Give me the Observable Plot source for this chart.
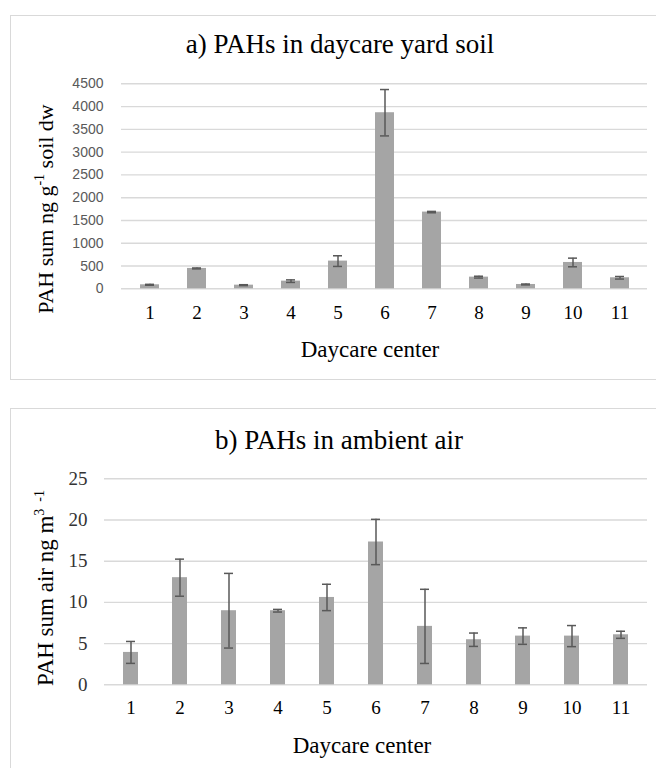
<!DOCTYPE html>
<html><head><meta charset="utf-8">
<script src="https://cdn.jsdelivr.net/npm/d3@7"></script>
<script src="https://cdn.jsdelivr.net/npm/@observablehq/plot@0.6"></script>
<style>
html,body{margin:0;padding:0;background:#fff;overflow:hidden;width:656px;height:768px;position:relative}
.frame{position:absolute;border:1.3px solid #d9d9d9;box-sizing:border-box}
.plot{position:absolute}
</style></head>
<body>
<div class="frame" style="left:10px;top:15px;width:680px;height:365px"></div>
<div class="frame" style="left:10px;top:408px;width:680px;height:400px"></div>
<div id="pa" class="plot" style="left:10px;top:15px"></div>
<div id="pb" class="plot" style="left:10px;top:408px"></div>
<script>
const centers = ["1","2","3","4","5","6","7","8","9","10","11"];
const soil    = [88, 447, 80, 168, 608, 3865, 1684, 256, 95, 578, 242];
const soilErr = [10, 10, 10, 28, 117, 509, 15, 20, 10, 95, 28];
const soilTicks = [0,500,1000,1500,2000,2500,3000,3500,4000,4500];
const air     = [3.93, 13.0, 8.99, 8.99, 10.6, 17.33, 7.09, 5.47, 5.91, 5.91, 6.07];
const airErr  = [1.33, 2.25, 4.53, 0.16, 1.6, 2.75, 4.5, 0.81, 1.0, 1.28, 0.43];
const airTicks = [0,5,10,15,20,25];
const titleA = "a) PAHs in daycare yard soil";
const titleB = "b) PAHs in ambient air";
const xLabel = "Daycare center";
const yLabelA = [["PAH sum ng g", false], ["-1", true], [" soil dw", false]];
const yLabelB = [["PAH sum air ng m", false], ["3\u00a0\u00a0-1", true]];

const SERIF = "Liberation Serif, Times New Roman, serif";

function panel(vals, errs, ticks, o) {
  const rows = centers.map((c, i) => ({c, v: vals[i], e: errs[i]}));
  const svg = Plot.plot({
    width: 646, height: o.height,
    marginLeft: o.ml, marginRight: 9, marginTop: o.mt, marginBottom: o.mb,
    x: {domain: centers, paddingInner: o.pad, paddingOuter: o.pad / 2, axis: null},
    y: {domain: [0, ticks[ticks.length - 1]], axis: null},
    style: {background: "transparent", overflow: "visible"},
    marks: [
      Plot.gridY(ticks, {stroke: "#d9d9d9", strokeOpacity: 1, strokeWidth: 1.4}),
      Plot.axisY(ticks, {tickSize: 0, tickPadding: o.yPad, tickFormat: d => String(d), fontFamily: o.yFont, fontSize: o.yFs, fill: o.yFill, label: null}),
      Plot.axisX({tickSize: 0, tickPadding: o.xPad, fontFamily: SERIF, fontSize: 19, fill: "#000", label: null}),
      Plot.barY(rows, {x: "c", y: "v", fill: "#a5a5a5"}),
      Plot.ruleX(rows, {x: "c", y1: d => d.v - d.e, y2: d => d.v + d.e, stroke: "#595959", strokeWidth: 1.5}),
      Plot.tickY(rows, {x: "c", y: d => d.v + d.e, stroke: "#595959", strokeWidth: 1.5, insetLeft: o.cap, insetRight: o.cap}),
      Plot.tickY(rows, {x: "c", y: d => d.v - d.e, stroke: "#595959", strokeWidth: 1.5, insetLeft: o.cap, insetRight: o.cap})
    ]
  });
  const s = d3.select(svg);
  const g = s.append("g").attr("font-family", SERIF).attr("fill", "#000");
  g.append("text").attr("x", o.tx).attr("y", o.ty).attr("text-anchor", "middle")
    .attr("font-size", 27).text(o.title);
  g.append("text").attr("x", o.xlx).attr("y", o.xly).attr("text-anchor", "middle")
    .attr("font-size", 23).text(xLabel);
  const yl = g.append("text").attr("text-anchor", "middle").attr("font-size", o.ylfs)
    .attr("transform", `translate(${o.ylx},${o.yly}) rotate(-90)`);
  let shifted = false;
  for (const [str, sup] of o.ylabel) {
    const t = yl.append("tspan").text(str);
    if (sup && !shifted) { t.attr("font-size", 14).attr("dy", -9); shifted = true; }
    else if (!sup && shifted) { t.attr("dy", 9); shifted = false; }
  }
  return svg;
}

document.getElementById("pa").append(panel(soil, soilErr, soilTicks, {
  height: 364, ml: 111, mt: 68.3, mb: 90.7, pad: 0.6, cap: 5,
  yPad: 18, yFont: "Liberation Sans, Arial, sans-serif", yFs: 14, yFill: "#595959", xPad: 16.5,
  title: titleA, tx: 330, ty: 38, xlx: 360, xly: 342, ylx: 43, yly: 194, ylfs: 22, ylabel: yLabelA
}));
document.getElementById("pb").append(panel(air, airErr, airTicks, {
  height: 360, ml: 94, mt: 70.3, mb: 83.7, pad: 0.7, cap: 3,
  yPad: 17, yFont: SERIF, yFs: 19, yFill: "#333", xPad: 15.2,
  title: titleB, tx: 329, ty: 41, xlx: 352, xly: 345, ylx: 43, yly: 180, ylfs: 23, ylabel: yLabelB
}));
</script>
</body></html>
